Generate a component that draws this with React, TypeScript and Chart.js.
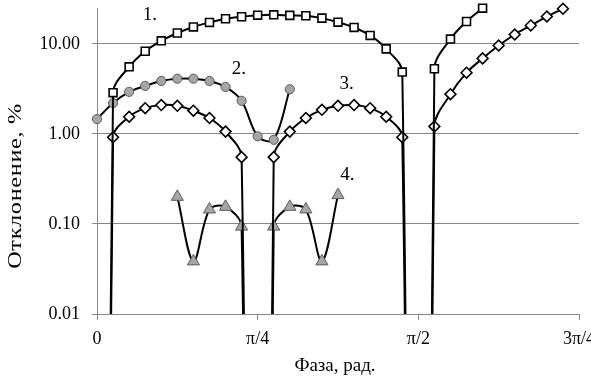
import React, { useEffect, useRef } from "react";
import { Chart, registerables } from "chart.js";

Chart.register(...registerables);

// One phase step on the grid equals π/40 rad.
const PHASE_STEP = Math.PI / 40;

// Deviation curves, %. 1e-20 marks an exact zero crossing (falls off the log axis).
const steps1 = [0, 1, 2, 3, 4, 5, 6, 7, 8, 9, 10, 11, 12, 13, 14, 15, 16, 17, 18, 19, 20, 21, 22, 23, 24];
const dev1 = [1e-20, 2.87, 5.56, 8.28, 10.8, 13.2, 15.4, 17.3, 19.0, 20.0, 20.8, 21.0, 20.7, 20.5, 19.3, 17.4, 15.2, 12.4, 8.79, 4.86, 1e-20, 5.29, 11.3, 17.7, 24.9];

const steps2 = [0, 1, 2, 3, 4, 5, 6, 7, 8, 9, 10, 11, 12];
const dev2 = [1.46, 2.2, 2.93, 3.41, 3.87, 4.1, 4.1, 3.87, 3.32, 2.33, 0.94, 0.86, 3.13];

const steps3 = [0, 1, 2, 3, 4, 5, 6, 7, 8, 9, 10, 11, 12, 13, 14, 15, 16, 17, 18, 19, 20, 21, 22, 23, 24, 25, 26, 27, 28, 29];
const dev3 = [1e-20, 0.917, 1.55, 1.93, 2.09, 2.05, 1.81, 1.5, 1.06, 0.552, 1e-20, 0.552, 1.06, 1.5, 1.85, 2.05, 2.09, 1.93, 1.55, 0.917, 1e-20, 1.21, 2.76, 4.78, 6.89, 9.58, 12.7, 16.0, 20.1, 24.5];

const steps4 = [5, 6, 7, 8, 9, 10, 11, 12, 13, 14, 15];
const dev4 = [0.2, 0.0384, 0.145, 0.155, 0.0934, 1e-20, 0.0934, 0.155, 0.145, 0.0384, 0.209];

// Axis ticks
const xTickSteps = [0, 10, 20, 30];
const xTickLabels = ["0", "π/4", "π/2", "3π/4"];
const yTickValues = [0.01, 0.1, 1, 10];

// Curve numbers, anchored in data coordinates (phase in rad, deviation in %)
const curveLabels = ["1.", "2.", "3.", "4."];
const curveLabelPhase = [0.2585, 0.693, 1.22, 1.224];
const curveLabelDev = [20.7, 5.25, 3.59, 0.347];

const FONT = '"Liberation Serif", "Times New Roman", serif';
const AXIS_GREY = "#878787";

const toPoints = (steps: number[], vals: number[]) =>
  steps.map((k, i) => ({ x: k * PHASE_STEP, y: vals[i] }));

const textPlugin = {
  id: "curveText",
  afterDatasetsDraw(chart: any) {
    const { ctx, scales } = chart;
    const xs = scales.x;
    const ys = scales.y;
    ctx.save();
    ctx.fillStyle = "#000";
    ctx.textAlign = "center";
    ctx.textBaseline = "middle";
    ctx.font = `19px ${FONT}`;
    curveLabels.forEach((t, i) => {
      ctx.fillText(t, xs.getPixelForValue(curveLabelPhase[i]), ys.getPixelForValue(curveLabelDev[i]));
    });
    // axis titles
    ctx.fillText("Фаза, рад.", 335, 366);
    ctx.translate(16, 186);
    ctx.rotate(-Math.PI / 2);
    ctx.scale(1.28, 1);
    ctx.letterSpacing = "0.5px";
    ctx.fillText("Отклонение, %", 0, 0);
    ctx.restore();
  },
};

const lineBase = {
  borderColor: "#000",
  borderWidth: 2,
  tension: 0.33,
  pointBorderColor: "#000",
  clip: { left: 8, top: 8, right: 8, bottom: 0 },
};

export default function App() {
  const ref = useRef<HTMLCanvasElement | null>(null);

  useEffect(() => {
    if (!ref.current) return;
    const chart = new Chart(ref.current, {
      type: "line",
      data: {
        datasets: [
          {
            ...lineBase,
            data: toPoints(steps1, dev1),
            pointStyle: "rect",
            pointRadius: 5.6,
            pointBackgroundColor: "#fff",
            pointBorderWidth: 1.6,
          },
          {
            ...lineBase,
            data: toPoints(steps2, dev2),
            pointStyle: "circle",
            pointRadius: 4.6,
            pointBackgroundColor: "#a6a6a6",
            pointBorderColor: "#5a5a5a",
            pointBorderWidth: 1,
          },
          {
            ...lineBase,
            data: toPoints(steps3, dev3),
            pointStyle: "rectRot",
            pointRadius: 5.4,
            pointBackgroundColor: "#fff",
            pointBorderWidth: 1.6,
          },
          {
            ...lineBase,
            data: toPoints(steps4, dev4),
            pointStyle: "triangle",
            pointRadius: 7,
            pointBackgroundColor: "#a6a6a6",
            pointBorderColor: "#5a5a5a",
            pointBorderWidth: 1,
          },
        ] as any,
      },
      options: {
        responsive: false,
        animation: false,
        events: [],
        layout: { padding: { top: 6, right: 12, left: 0, bottom: 0 } },
        plugins: { legend: { display: false }, tooltip: { enabled: false } },
        scales: {
          x: {
            type: "linear",
            min: 0,
            max: 30 * PHASE_STEP,
            afterBuildTicks: (s: any) => {
              s.ticks = xTickSteps.map((k) => ({ value: k * PHASE_STEP }));
            },
            afterFit: (s: any) => {
              s.height = 64;
              s.paddingLeft = 0;
              s.paddingRight = 0;
            },
            ticks: {
              autoSkip: false,
              maxRotation: 0,
              padding: 8,
              color: "#000",
              font: { family: FONT, size: 18 },
              callback: (_v: any, i: number) => xTickLabels[i],
            },
            grid: { drawOnChartArea: false, drawTicks: true, tickLength: 6, color: AXIS_GREY },
            border: { color: AXIS_GREY },
          },
          y: {
            type: "logarithmic",
            min: 0.01,
            max: 25,
            afterBuildTicks: (s: any) => {
              s.ticks = yTickValues.map((v) => ({ value: v }));
            },
            afterFit: (s: any) => {
              s.width = 97;
              s.paddingTop = 0;
              s.paddingBottom = 0;
            },
            ticks: {
              padding: 12,
              color: "#000",
              font: { family: FONT, size: 18 },
              callback: (v: any) => Number(v).toFixed(2),
            },
            grid: { color: AXIS_GREY, tickLength: 5 },
            border: { color: AXIS_GREY },
          },
        },
      } as any,
      plugins: [textPlugin],
    });
    return () => chart.destroy();
  }, []);

  return (
    <div style={{ position: "absolute", left: 0, top: 0, width: 591, height: 378, background: "#fff" }}>
      <canvas ref={ref} width={591} height={378} />
    </div>
  );
}
